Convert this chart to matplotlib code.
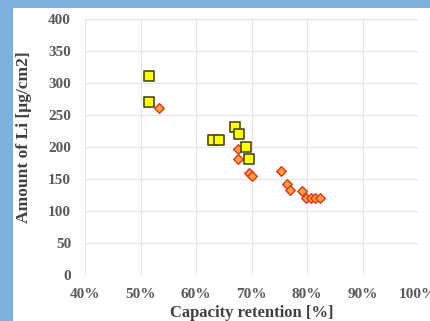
import matplotlib
matplotlib.use("Agg")
import matplotlib.pyplot as plt
from matplotlib.patches import Rectangle

# Capacity retention [%] vs. amount of Li [ug/cm2]
sq_x = [51.5, 51.5, 63.1, 64.2, 67.0, 67.75, 69.0, 69.5]
sq_y = [311, 270, 211, 211, 231, 220, 200, 181]

dm_x = [53.4, 67.6, 67.6, 69.5, 70.0, 75.25, 76.45, 76.9, 79.1, 79.9, 80.8, 81.5, 82.3]
dm_y = [261, 197, 181, 160, 155, 163, 142, 133, 131, 121, 121, 121, 121]

x_ticks = [40, 50, 60, 70, 80, 90, 100]
y_ticks = [0, 50, 100, 150, 200, 250, 300, 350, 400]

fig = plt.figure(figsize=(4.30, 3.21), dpi=100)
fig.patch.set_facecolor("#7FB1DF")
panel = Rectangle((13 / 430, 0), 1, 1 - 8 / 321, transform=fig.transFigure,
                  facecolor="white", edgecolor="none", zorder=-10)
fig.add_artist(panel)

ax = fig.add_axes([85 / 430, 1 - 275 / 321, 333 / 430, 256 / 321])
ax.set_zorder(1)
ax.set_facecolor("white")
ax.set_xlim(40, 100)
ax.set_ylim(0, 400)
ax.set_xticks(x_ticks)
ax.set_yticks(y_ticks)
ax.set_xticklabels([f"{v}%" for v in x_ticks])
ax.grid(True, color="#E4E4E4", linewidth=0.8)
ax.set_axisbelow(True)
for s in ax.spines.values():
    s.set_visible(False)
ax.tick_params(length=0, labelsize=11, labelcolor="#595959")
ax.tick_params(axis="x", pad=9)
ax.tick_params(axis="y", pad=10)
for lab in ax.get_xticklabels() + ax.get_yticklabels():
    lab.set_family("Liberation Serif")
    lab.set_fontweight("bold")

ax.scatter(dm_x, dm_y, marker="D", s=24, facecolor="#F9A23A", edgecolor="#E8301A",
           linewidths=1.0, zorder=3)
ax.scatter(sq_x, sq_y, marker="s", s=44, facecolor="#FFFF00", edgecolor="#4A4A10",
           linewidths=1.2, zorder=4)

ax.set_xlabel("Capacity retention [%]", family="Liberation Serif", fontweight="bold",
              fontsize=12, color="#404040", labelpad=3)
ax.set_ylabel("Amount of Li [μg/cm2]", family="Liberation Serif", fontweight="bold",
              fontsize=12.6, color="#404040")
ax.yaxis.set_label_coords(-0.159, 0.539)

fig.savefig("out.png", dpi=100, facecolor=fig.get_facecolor())
